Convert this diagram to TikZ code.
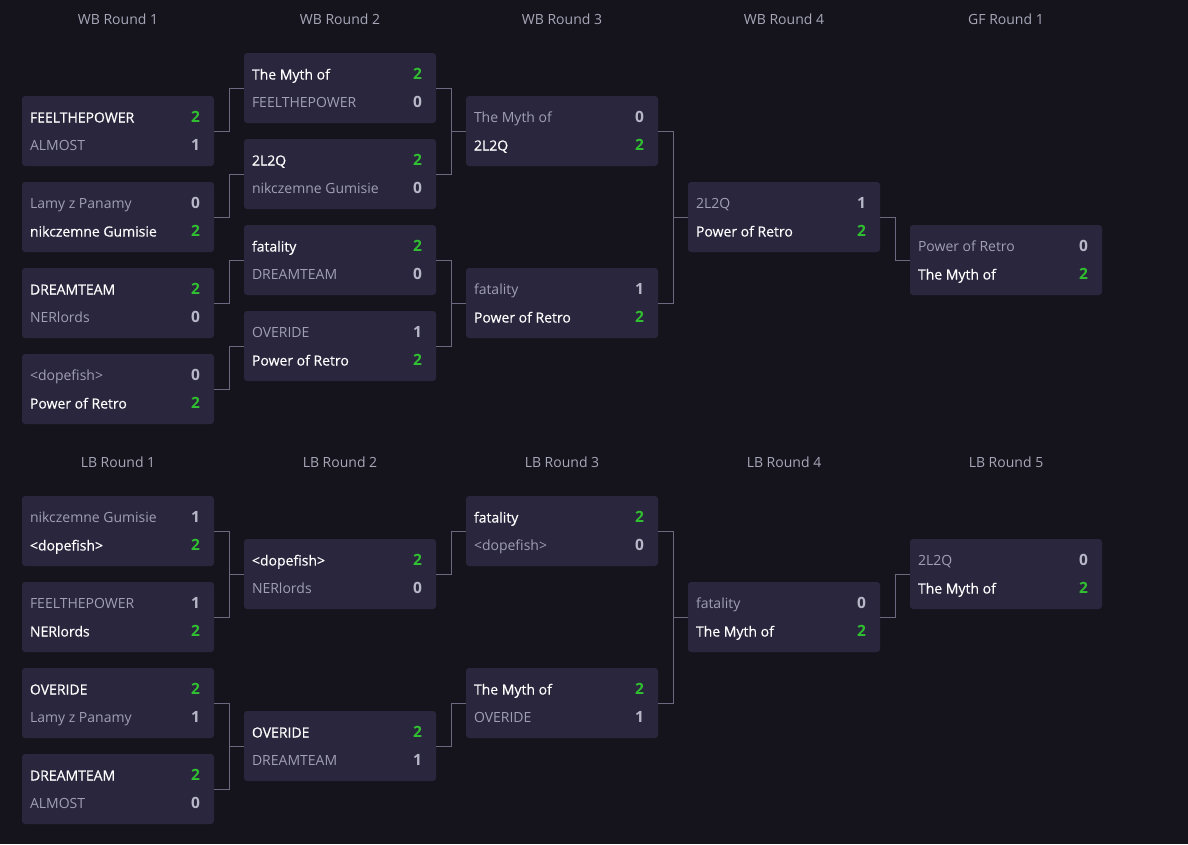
\documentclass[tikz,border=0pt]{standalone}
\usepackage{fontspec}
\setmainfont{Open Sans}
\newfontfamily\winfont{Open Sans}[FakeBold=0.4]

\definecolor{pagebg}{HTML}{15141D}
\definecolor{boxbg}{HTML}{29263D}
\definecolor{wire}{HTML}{6A6980}
\definecolor{dimtext}{HTML}{A09FB4}
\definecolor{headtext}{HTML}{A8A7B8}
\definecolor{wingreen}{HTML}{30C030}
\definecolor{losescore}{HTML}{B8B7C8}

% one match: name, x, y, team 1, score 1, team 2, score 2
\newcommand{\bmatch}[7]{%
  \ifnum#5>#7\relax
    \tikzset{topname/.style={text=white, font=\fontsize{14}{16}\winfont},
             topscore/.style={text=wingreen},
             botname/.style={text=dimtext}, botscore/.style={text=losescore}}%
  \else
    \tikzset{topname/.style={text=dimtext}, topscore/.style={text=losescore},
             botname/.style={text=white, font=\fontsize{14}{16}\winfont},
             botscore/.style={text=wingreen}}%
  \fi
  \node[matchbox] (#1) at (#2,#3) {};
  \node[teamname, topname, anchor=base west] (#1a) at ([shift={(8pt,8.5pt)}]#1.west) {#4};
  \node[teamscore, topscore, anchor=base east] (#1as) at ([shift={(-14pt,8.5pt)}]#1.east) {#5};
  \node[teamname, botname, anchor=base west] (#1b) at ([shift={(8pt,-19.5pt)}]#1.west) {#6};
  \node[teamscore, botscore, anchor=base east] (#1bs) at ([shift={(-14pt,-19.5pt)}]#1.east) {#7};
}

\begin{document}
\begin{tikzpicture}[
        x=1pt, y=-1pt,
        matchbox/.style={rectangle, fill=boxbg, rounded corners=3pt, inner sep=0pt,
                         minimum width=192pt, minimum height=70pt},
        teamname/.style={inner sep=0pt, font=\fontsize{14}{16}\selectfont},
        teamscore/.style={inner sep=0pt, font=\fontsize{15.5}{16}\selectfont\bfseries},
        roundhead/.style={inner sep=0pt, anchor=base, text=headtext,
                          font=\fontsize{14}{16}\selectfont},
        link/.style={draw=wire, line width=0.9pt}
    ]
 \fill[pagebg] (0,0) rectangle (1188,844);

 % round titles
 \foreach \x/\t [count=\i] in {118/WB Round 1, 340/WB Round 2, 562/WB Round 3,
                               784/WB Round 4, 1006/GF Round 1}
     \node[roundhead] (wbh\i) at (\x,24) {\t};
 \foreach \x/\t [count=\i] in {118/LB Round 1, 340/LB Round 2, 562/LB Round 3,
                               784/LB Round 4, 1006/LB Round 5}
     \node[roundhead] (lbh\i) at (\x,467) {\t};

 % winners bracket
 \bmatch{wb11}{118}{131}{FEELTHEPOWER}{2}{ALMOST}{1}
 \bmatch{wb12}{118}{217}{Lamy z Panamy}{0}{nikczemne Gumisie}{2}
 \bmatch{wb13}{118}{303}{DREAMTEAM}{2}{NERlords}{0}
 \bmatch{wb14}{118}{389}{<dopefish>}{0}{Power of Retro}{2}
 \bmatch{wb21}{340}{88}{The Myth of}{2}{FEELTHEPOWER}{0}
 \bmatch{wb22}{340}{174}{2L2Q}{2}{nikczemne Gumisie}{0}
 \bmatch{wb23}{340}{260}{fatality}{2}{DREAMTEAM}{0}
 \bmatch{wb24}{340}{346}{OVERIDE}{1}{Power of Retro}{2}
 \bmatch{wb31}{562}{131}{The Myth of}{0}{2L2Q}{2}
 \bmatch{wb32}{562}{303}{fatality}{1}{Power of Retro}{2}
 \bmatch{wb41}{784}{217}{2L2Q}{1}{Power of Retro}{2}
 \bmatch{gf1}{1006}{260}{Power of Retro}{0}{The Myth of}{2}

 % losers bracket
 \bmatch{lb11}{118}{531}{nikczemne Gumisie}{1}{<dopefish>}{2}
 \bmatch{lb12}{118}{617}{FEELTHEPOWER}{1}{NERlords}{2}
 \bmatch{lb13}{118}{703}{OVERIDE}{2}{Lamy z Panamy}{1}
 \bmatch{lb14}{118}{789}{DREAMTEAM}{2}{ALMOST}{0}
 \bmatch{lb21}{340}{574}{<dopefish>}{2}{NERlords}{0}
 \bmatch{lb22}{340}{746}{OVERIDE}{2}{DREAMTEAM}{1}
 \bmatch{lb31}{562}{531}{fatality}{2}{<dopefish>}{0}
 \bmatch{lb32}{562}{703}{The Myth of}{2}{OVERIDE}{1}
 \bmatch{lb41}{784}{617}{fatality}{0}{The Myth of}{2}
 \bmatch{lb51}{1006}{574}{2L2Q}{0}{The Myth of}{2}

 % connectors
 \foreach \a/\b in {wb11/wb21, wb12/wb22, wb13/wb23, wb14/wb24,
                    wb21/wb31, wb22/wb31, wb23/wb32, wb24/wb32,
                    wb31/wb41, wb32/wb41, wb41/gf1,
                    lb11/lb21, lb12/lb21, lb13/lb22, lb14/lb22,
                    lb21/lb31, lb22/lb32, lb31/lb41, lb32/lb41, lb41/lb51}
     \draw[link] (\a.east) -- ++(15,0) |- (\b.west);
\end{tikzpicture}
\end{document}
